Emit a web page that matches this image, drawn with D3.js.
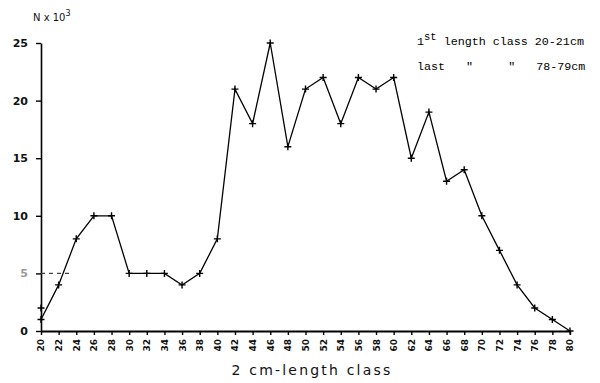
<!DOCTYPE html>
<html>
<head>
<meta charset="utf-8">
<script src="https://cdn.jsdelivr.net/npm/d3@7"></script>
<style>
  body { margin: 0; background: #fff; }
  svg { display: block; }
  .tick text { font-family: "DejaVu Sans", sans-serif; font-weight: bold; }
  .note { font-family: "Liberation Mono", "DejaVu Sans Mono", monospace; font-size: 11.7px; }
</style>
</head>
<body>
<div id="chart"></div>
<script>
// length class (cm, lower bound) and N x 10^3
const lengthClass = [20, 22, 24, 26, 28, 30, 32, 34, 36, 38, 40, 42, 44, 46, 48, 50,
                     52, 54, 56, 58, 60, 62, 64, 66, 68, 70, 72, 74, 76, 78, 80];
const counts = [1, 4, 8, 10, 10, 5, 5, 5, 4, 5, 8, 21, 18, 25, 16, 21,
                22, 18, 22, 21, 22, 15, 19, 13, 14, 10, 7, 4, 2, 1, 0];
// stray extra mark at the first class
const extraX = [20];
const extraY = [2];
const yTicks = [0, 5, 10, 15, 20, 25];
const xTicks = lengthClass;

const width = 600, height = 383;
const margin = { left: 41, right: 30, top: 43, bottom: 52 };

const svg = d3.select("#chart").append("svg")
  .attr("width", width)
  .attr("height", height);

const x = d3.scaleLinear().domain([20, 80]).range([margin.left, width - margin.right]);
const y = d3.scaleLinear().domain([0, 25]).range([height - margin.bottom, margin.top]);

// y axis
const yAxis = svg.append("g")
  .attr("transform", `translate(${margin.left},0)`)
  .call(d3.axisLeft(y).tickValues(yTicks).tickSize(5).tickSizeOuter(0).tickPadding(8));
yAxis.select(".domain").attr("stroke-width", 1.6);
yAxis.selectAll(".tick line").attr("stroke-width", 1.4);
yAxis.selectAll(".tick text").attr("font-size", 11).attr("fill", "#111");
yAxis.selectAll(".tick").filter(d => d === 5).select("text").attr("fill", "#999");

// x axis
const xAxis = svg.append("g")
  .attr("transform", `translate(0,${height - margin.bottom})`)
  .call(d3.axisBottom(x).tickValues(xTicks).tickSize(4).tickSizeOuter(0));
xAxis.select(".domain").attr("stroke-width", 1.8);
xAxis.selectAll(".tick line").attr("stroke-width", 1.4);
xAxis.selectAll(".tick text")
  .attr("font-size", 9)
  .attr("fill", "#111")
  .attr("transform", "rotate(-90)")
  .attr("text-anchor", "end")
  .attr("dy", "0.33em")
  .attr("x", -8)
  .attr("y", 0);

// line
const line = d3.line()
  .x((d, i) => x(lengthClass[i]))
  .y(d => y(d));

svg.append("path")
  .datum(counts)
  .attr("fill", "none")
  .attr("stroke", "#000")
  .attr("stroke-width", 1.3)
  .attr("d", line);

// faint dashed mark near 5
svg.append("line")
  .attr("x1", x(20)).attr("x2", x(23.2))
  .attr("y1", y(5)).attr("y2", y(5))
  .attr("stroke", "#444").attr("stroke-width", 1.2)
  .attr("stroke-dasharray", "4,4");

// plus markers
const pts = lengthClass.map((c, i) => [c, counts[i]])
  .concat(extraX.map((c, i) => [c, extraY[i]]));
const s = 3.5;
svg.append("g").selectAll("path")
  .data(pts)
  .join("path")
  .attr("d", d => {
    const px = x(d[0]), py = y(d[1]);
    return `M${px - s},${py}H${px + s}M${px},${py - s}V${py + s}`;
  })
  .attr("stroke", "#000")
  .attr("stroke-width", 1.4);

// y label
const yl = svg.append("text")
  .attr("x", 33).attr("y", 21)
  .attr("font-family", "DejaVu Sans, sans-serif")
  .attr("font-size", 10)
  .attr("fill", "#111");
yl.append("tspan").text("N x 10");
yl.append("tspan").attr("dy", -5).attr("font-size", 8).text("3");

// x label
svg.append("text")
  .attr("x", 312).attr("y", 375)
  .attr("text-anchor", "middle")
  .attr("font-family", "DejaVu Sans, sans-serif")
  .attr("font-size", 14)
  .attr("letter-spacing", 2.2)
  .attr("fill", "#111")
  .text("2 cm-length class");

// notes (typewritten, columns aligned)
const n1 = svg.append("text").attr("class", "note").attr("x", 417).attr("y", 45);
n1.append("tspan").text("1");
n1.append("tspan").attr("dy", -5).attr("font-size", 10.5).text("st");
n1.append("tspan").attr("dy", 5).text(" length class 20-21cm");
const nb = "\u00A0";
svg.append("text").attr("class", "note").attr("x", 417).attr("y", 70)
  .text("last" + nb.repeat(3) + "\"" + nb.repeat(5) + "\"" + nb.repeat(3) + "78-79cm");
</script>
</body>
</html>
